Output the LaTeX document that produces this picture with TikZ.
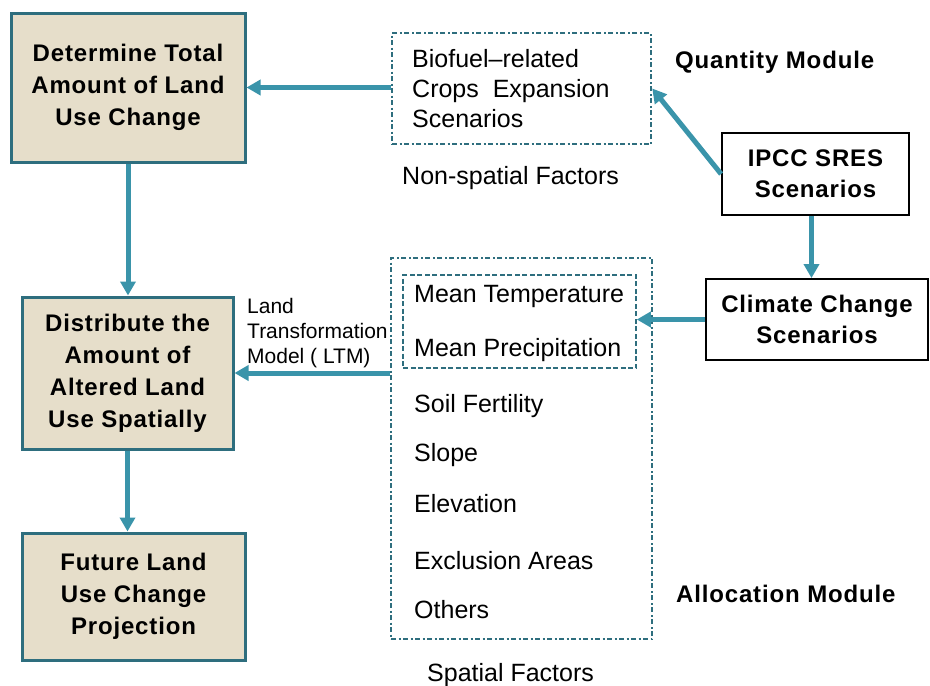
\documentclass[tikz,border=0pt]{standalone}
\usepackage{fontspec}
\setmainfont{Liberation Sans}
\usetikzlibrary{arrows.meta}
\definecolor{beige}{RGB}{230,222,202}
\definecolor{tealdark}{RGB}{46,110,126}
\definecolor{tealarrow}{RGB}{58,148,170}
\newcommand{\bsp}{\bfseries\addfontfeature{LetterSpace=3.5}}
\begin{document}
\begin{tikzpicture}[x=1pt,y=-1pt,
 mainbox/.style={draw=tealdark, line width=3pt, fill=beige, align=center, inner sep=0pt, font=\fontsize{24}{32}\selectfont\bsp},
 plainbox/.style={draw=black, line width=1.8pt, fill=white, align=center, inner sep=0pt, font=\fontsize{24}{31}\selectfont\bsp},
 dashdotbox/.style={draw=tealdark, line width=2.5pt, dash pattern=on 5pt off 2.5pt on 2pt off 2.5pt, inner sep=0pt},
 dashbox/.style={draw=tealdark, line width=1.5pt, dash pattern=on 5pt off 2.5pt, inner sep=0pt},
 conn/.style={draw=tealarrow, line width=5pt, -{Triangle[length=14pt,width=15pt]}},
 factor/.style={anchor=base west, inner sep=0pt, font=\fontsize{25}{30}\selectfont},
 modtitle/.style={anchor=base west, inner sep=0pt, font=\fontsize{24}{30}\selectfont\bsp},
 ltmlabel/.style={anchor=base west, inner sep=0pt, font=\fontsize{21}{25}\selectfont}
]
\useasboundingbox (0,0) rectangle (930,686);

% main beige boxes
\node[mainbox, minimum width=234pt, minimum height=149pt] (box1) at (128,87.5) {Determine Total\\Amount of Land\\Use Change};
\node[mainbox, minimum width=211pt, minimum height=152pt] (box2) at (127.5,373) {Distribute the\\Amount of\\Altered Land\\Use Spatially};
\node[mainbox, minimum width=223pt, minimum height=127pt] (box3) at (133.5,596.5) {Future Land\\Use Change\\Projection};

% scenario boxes
\node[plainbox, minimum width=187pt, minimum height=82pt] (ipcc) at (815.5,174) {IPCC SRES\\Scenarios};
\node[plainbox, minimum width=222pt, minimum height=81pt] (clim) at (817,319.5) {Climate Change\\Scenarios};

% dashed boxes
\node[dashdotbox, minimum width=259pt, minimum height=111pt] (bio) at (521.5,88.5) {};
\node[dashdotbox, minimum width=261pt, minimum height=381pt] (spatial) at (521.5,448.5) {};
\node[dashbox, minimum width=233pt, minimum height=93pt] (inner) at (519.5,321.5) {};

% biofuel text
\node[factor] (b1) at (412,67) {Biofuel\textendash related};
\node[factor] (b2) at (412,97) {Crops\ \ Expansion};
\node[factor] (b3) at (412,127) {Scenarios};
\node[factor] (nonsp) at (402,184) {Non-spatial Factors};

% spatial factors
\node[factor] (f1) at (414,302) {Mean Temperature};
\node[factor] (f2) at (414,356) {Mean Precipitation};
\node[factor] (f3) at (414,412) {Soil Fertility};
\node[factor] (f4) at (414,461) {Slope};
\node[factor] (f5) at (414,512) {Elevation};
\node[factor] (f6) at (414,569) {Exclusion Areas};
\node[factor] (f7) at (414,618) {Others};
\node[factor] (spf) at (427,681) {Spatial Factors};

% module titles
\node[modtitle] (qm) at (675,68) {Quantity Module};
\node[modtitle] (am) at (676,602) {Allocation Module};

% LTM label
\node[ltmlabel] (l1) at (247,313) {Land};
\node[ltmlabel] (l2) at (247,338) {Transformation};
\node[ltmlabel] (l3) at (247,363) {Model ( LTM)};

% connectors
\draw[conn] (bio.west |- box1.east) -- (box1.east);
\draw[conn] (box1.south) -- (box1.south |- box2.north);
\draw[conn] (box2.south) -- (box2.south |- box3.north);
\draw[conn] (spatial.west |- box2.east) -- (box2.east);
\draw[conn] (ipcc.west) -- (bio.east);
\draw[conn] ([xshift=-4pt]ipcc.south) -- ([xshift=-4pt]ipcc.south |- clim.north);
\draw[conn] (clim.west) -- (inner.east |- clim.west);
\end{tikzpicture}
\end{document}
